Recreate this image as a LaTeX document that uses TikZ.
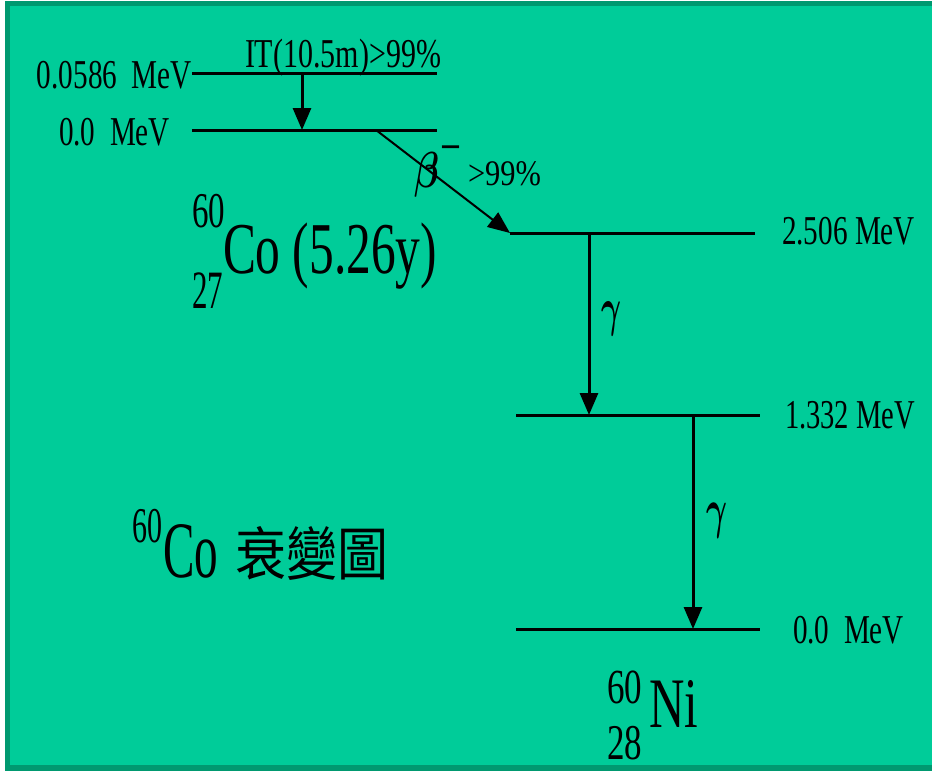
\documentclass[tikz,border=0pt]{standalone}
\usepackage{fontspec}
\setmainfont{Liberation Serif}
\newfontfamily\cjkfont{Noto Sans CJK TC}
\usepackage{graphicx}
\usetikzlibrary{arrows.meta}
\definecolor{bgfill}{RGB}{0,204,153}
\definecolor{bgedge}{RGB}{0,153,112}
\newcommand\fitw[3]{\resizebox{#1pt}{\height}{\fontsize{#2}{#2}\selectfont #3}}
\newcommand\fitbox[3]{\resizebox*{#1pt}{#2pt}{#3}}
\begin{document}
\begin{tikzpicture}[x=1pt,y=-1pt,
  lbl/.style={anchor=base west,inner sep=0pt,outer sep=0pt,text=black},
  level/.style={line width=3pt},
  trans/.style={line width=3pt,-{Triangle[length=22pt,width=18pt]}},
  betatr/.style={line width=2pt,-{Triangle[length=22pt,width=18pt]}}]
\useasboundingbox (0,0) rectangle (932,771);
\fill[white] (0,0) rectangle (932,771);
\fill[bgedge] (5,1) rectangle (932,771);
\fill[bgfill] (10,6) rectangle (932,765);
% level end points
\coordinate (a1) at (192,73);  \coordinate (a2) at (437,73);
\coordinate (b1) at (192,130); \coordinate (b2) at (437,130);
\coordinate (c1) at (510,233); \coordinate (c2) at (755,233);
\coordinate (d1) at (516,415); \coordinate (d2) at (760,415);
\coordinate (e1) at (516,629); \coordinate (e2) at (760,629);
\draw[level] (a1) -- (a2);
\draw[level] (b1) -- (b2);
\draw[level] (c1) -- (c2);
\draw[level] (d1) -- (d2);
\draw[level] (e1) -- (e2);
% transitions
\coordinate (itS) at (302,73);  \coordinate (itE) at (302,130);
\coordinate (btS) at (376,130);
\coordinate (g1S) at (589,233); \coordinate (g1E) at (589,415);
\coordinate (g2S) at (693,415); \coordinate (g2E) at (693,629);
\draw[trans] (itS) -- (itE);
\draw[betatr] (btS) -- (c1);
\draw[trans] (g1S) -- (g1E);
\draw[trans] (g2S) -- (g2E);
% labels
\node[lbl] (tA) at (37,88) {\fitw{155}{41}{0.0586\ \ MeV}};
\node[lbl] (tB) at (59,145) {\fitw{111}{41}{0.0\ \ MeV}};
\node[lbl] (tIT) at (245,67) {\fitw{196}{41}{IT(10.5m)>99\%}};
\node[lbl] (tbeta) at (414,187) {\fitbox{25}{45}{\mathversion{bold}$\beta$}};
\node[lbl] (tminus) at (440,160) {\fitw{21}{40}{\bfseries −}};
\node[lbl] (tbr) at (468,185) {\fitw{73}{36}{>99\%}};
\node[lbl] (tcoA) at (192,227) {\fitw{33}{50}{60}};
\node[lbl] (tcoZ) at (192,308) {\fitw{31}{54}{27}};
\node[lbl] (tco) at (223,273) {\fitw{214}{73}{Co (5.26y)}};
\node[lbl] (tC) at (782,244) {\fitw{133}{41}{2.506 MeV}};
\node[lbl] (tg1) at (601,325) {\fitbox{20}{34}{\mathversion{bold}$\gamma$}};
\node[lbl] (tg2) at (706,527) {\fitbox{21}{35}{\mathversion{bold}$\gamma$}};
\node[lbl] (tD) at (785,428) {\fitw{130}{41}{1.332 MeV}};
\node[lbl] (tE) at (793,643) {\fitw{111}{41}{0.0\ \ MeV}};
\node[lbl] (tniA) at (607,703) {\fitw{35}{49}{60}};
\node[lbl] (tni) at (649,727) {\fitw{49}{71}{Ni}};
\node[lbl] (tniZ) at (607,759) {\fitw{35}{50}{28}};
\node[lbl] (ttA) at (132,542) {\fitw{30}{50}{60}};
\node[lbl] (tt) at (163,577) {\fitw{55}{80}{Co}};
\node[lbl] (tcjk) at (235,575) {\fitw{153}{58}{\cjkfont 衰變圖}};
\end{tikzpicture}
\end{document}
